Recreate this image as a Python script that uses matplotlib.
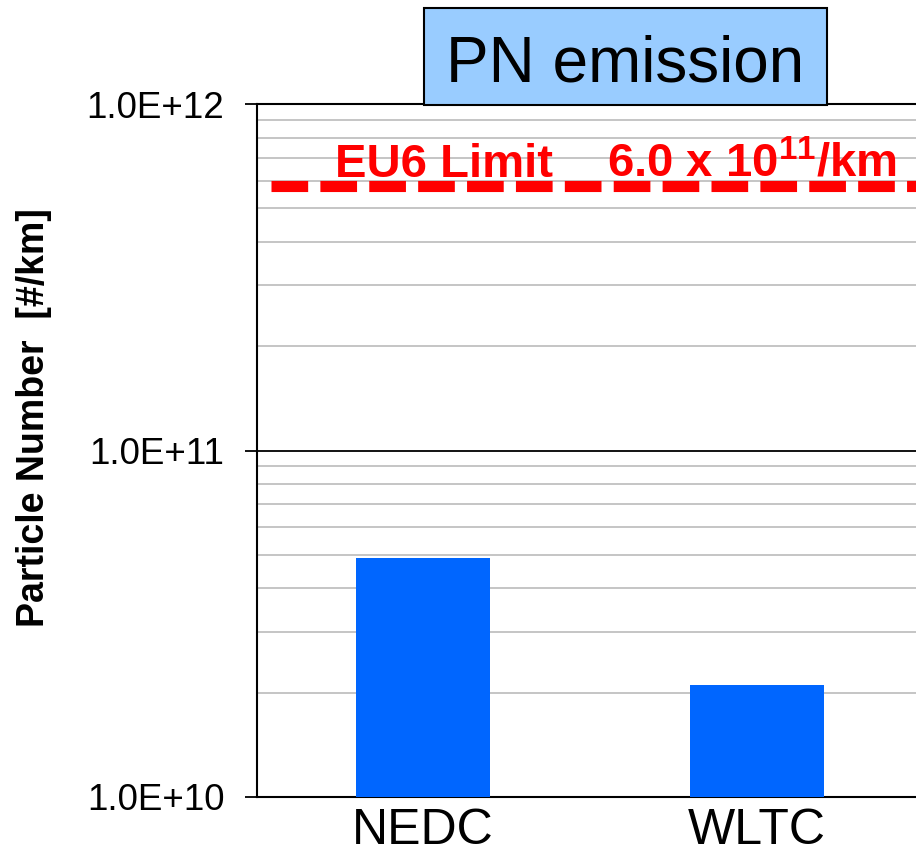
import numpy as np
import matplotlib
matplotlib.use("Agg")
import matplotlib.pyplot as plt
from matplotlib.patches import Rectangle
from matplotlib.ticker import LogLocator, NullFormatter

plt.rcParams["font.family"] = ["Liberation Sans", "DejaVu Sans"]
plt.rcParams["mathtext.fontset"] = "custom"
plt.rcParams["mathtext.rm"] = "Liberation Sans"
plt.rcParams["mathtext.bf"] = "Liberation Sans:bold"

# Data
cycles = ["NEDC", "WLTC"]
pn_values = [4.9e10, 2.1e10]
eu6_limit = 5.8e11
y_ticks = [1e10, 1e11, 1e12]
y_tick_labels = ["1.0E+10", "1.0E+11", "1.0E+12"]

W, H = 916, 859
fig = plt.figure(figsize=(W / 100, H / 100), dpi=100)

# axes box in pixels (left, top, right, bottom)
left, top, right, bottom = 257, 104, 916, 797
ax = fig.add_axes([left / W, 1 - bottom / H, (right - left) / W, (bottom - top) / H])

x = np.arange(len(cycles))
ax.bar(x, pn_values, width=0.40, color="#0066FF", zorder=3)

ax.set_yscale("log")
ax.set_ylim(1e10, 1e12)
ax.set_xlim(-0.497, 1.476)

ax.set_yticks(y_ticks)
ax.set_yticklabels(y_tick_labels, fontsize=26.5)
ax.yaxis.set_minor_locator(LogLocator(base=10, subs=np.arange(2, 10)))
ax.yaxis.set_minor_formatter(NullFormatter())
ax.tick_params(axis="y", which="major", length=8.5, width=1.3, pad=15)
ax.tick_params(axis="y", which="minor", length=0)
ax.grid(axis="y", which="minor", color="#C0C0C0", linewidth=1.3, zorder=1)
ax.grid(axis="y", which="major", color="black", linewidth=1.3, zorder=2)

ax.set_xticks(x)
ax.set_xticklabels(cycles, fontsize=36)
ax.tick_params(axis="x", length=0, pad=8)

ax.spines["right"].set_visible(False)
for side in ["left", "bottom", "top"]:
    ax.spines[side].set_linewidth(1.5)

# EU6 limit line
ax.axhline(eu6_limit, xmin=(271 - left) / (right - left), xmax=1.0,
           color="#FF0000", linewidth=8, linestyle=(0, (3.3, 1.1)),
           dash_capstyle="butt", zorder=4)
fig.text(335 / W, 1 - 177 / H, "EU6 Limit", color="#FF0000", fontsize=34,
         fontweight="bold", va="baseline", ha="left")
fig.text(607 / W, 1 - 177 / H, r"6.0 x 10$^{\mathbf{11}}$/km", color="#FF0000",
         fontsize=34, fontweight="bold", va="baseline", ha="left")

# y label
fig.text(34 / W, 1 - 418 / H, "Particle Number  [#/km]", rotation=90,
         fontsize=27, fontweight="bold", ha="center", va="center")

# title box
box = Rectangle((424 / W, 1 - 105 / H), (827 - 424) / W, (105 - 8) / H,
                transform=fig.transFigure, facecolor="#99CCFF",
                edgecolor="black", linewidth=1.5, zorder=10)
fig.patches.append(box)
fig.text(625 / W, 1 - 82 / H, "PN emission", fontsize=46, ha="center",
         va="baseline", zorder=11)

fig.savefig("out.png", dpi=100)
